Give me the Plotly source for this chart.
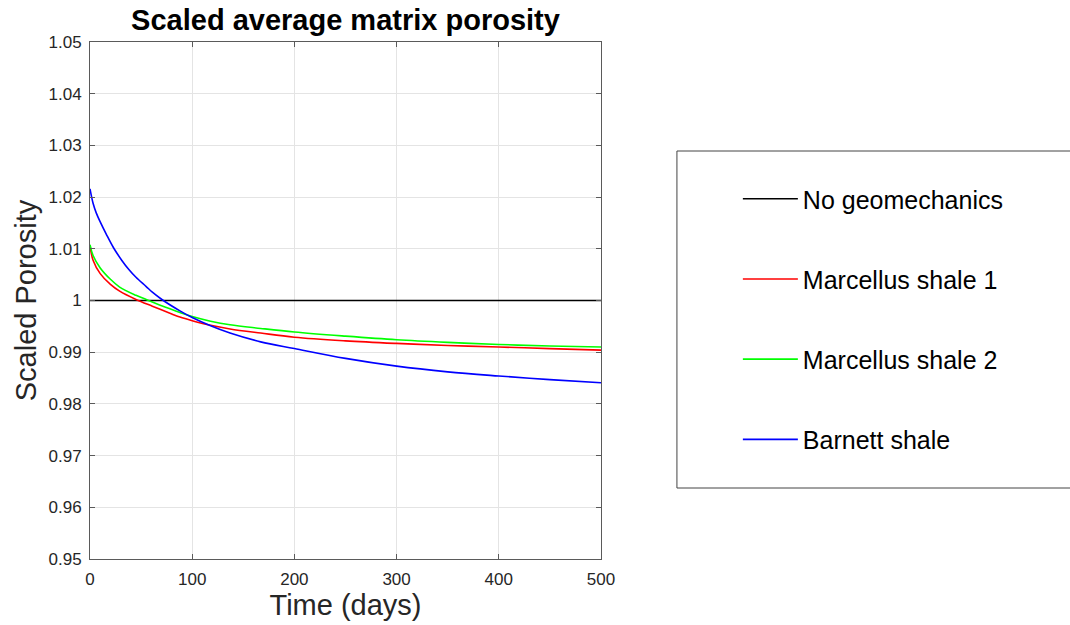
import plotly.graph_objects as go

# Data
ng_days = [0, 500]
ng_vals = [1.0, 1.0]

m1_days = [0, 3, 10, 20, 29, 45, 61, 80, 88, 100, 118, 137, 167, 200, 250, 300, 350, 400, 450, 500]
m1_vals = [1.0106, 1.0078, 1.0052, 1.0031, 1.0018, 1.0002, 0.9989, 0.9974, 0.9968, 0.9961, 0.9952,
           0.9945, 0.9937, 0.9929, 0.9922, 0.9917, 0.9913, 0.9910, 0.9907, 0.9904]

m2_days = [0, 3, 10, 20, 29, 45, 55, 74, 88, 100, 118, 137, 167, 200, 250, 300, 350, 400, 450, 500]
m2_vals = [1.0108, 1.0087, 1.0063, 1.0041, 1.0026, 1.0010, 1.0002, 0.9987, 0.9977, 0.9969, 0.9960,
           0.9953, 0.9946, 0.9939, 0.9931, 0.9924, 0.9919, 0.9915, 0.9912, 0.9910]

b_days = [0, 3, 6, 10, 16, 23, 31, 38, 45, 55, 61, 71, 88, 100, 118, 137, 167, 200, 250, 300, 350, 400, 450, 500]
b_vals = [1.0216, 1.0188, 1.0170, 1.0152, 1.0128, 1.0102, 1.0078, 1.0060, 1.0045, 1.0027, 1.0016, 1.0001,
          0.9980, 0.9967, 0.9951, 0.9937, 0.9920, 0.9907, 0.9888, 0.9873, 0.9862, 0.9854, 0.9847, 0.9841]

x_ticks = [0, 100, 200, 300, 400, 500]
x_labels = ["0", "100", "200", "300", "400", "500"]
y_ticks = [0.95, 0.96, 0.97, 0.98, 0.99, 1.0, 1.01, 1.02, 1.03, 1.04, 1.05]
y_labels = ["0.95", "0.96", "0.97", "0.98", "0.99", "1", "1.01", "1.02", "1.03", "1.04", "1.05"]

names = ["No geomechanics", "Marcellus shale 1", "Marcellus shale 2", "Barnett shale"]
colors = ["#000000", "#ff0000", "#00ff00", "#0000ff"]

FONT = "Liberation Sans, Arial, Helvetica, sans-serif"

fig = go.Figure()
series = [(ng_days, ng_vals), (m1_days, m1_vals), (m2_days, m2_vals), (b_days, b_vals)]
for i, ((xs, ys), nm, c) in enumerate(zip(series, names, colors)):
    fig.add_trace(go.Scatter(
        x=xs, y=ys, mode="lines", name=nm, legendgroup=f"g{i}",
        line=dict(color=c, width=1.6, shape="spline", smoothing=1.0),
    ))

W, H = 1070, 625
L, R, T, B = 89.5, 601, 42, 559
pw, ph = R - L, B - T

def px2paper_x(px):
    return (px - L) / pw

def px2paper_y(py):
    return (B - py) / ph

axis_common = dict(
    showline=True, linecolor="#5a5a5a", linewidth=1, mirror="ticks",
    ticks="inside", ticklen=5, tickcolor="#5a5a5a",
    showgrid=True, gridcolor="#e4e4e4", gridwidth=1, zeroline=False,
    tickfont=dict(family=FONT, size=17, color="#262626"),
)

fig.update_layout(
    width=W, height=H,
    margin=dict(l=L, r=W - R, t=T, b=H - B, pad=0),
    paper_bgcolor="white", plot_bgcolor="white",
    font=dict(family=FONT, color="#000000"),
    title=dict(text="<b>Scaled average matrix porosity</b>",
               font=dict(family=FONT, size=29, color="#000000"),
               x=0.5, xref="paper", xanchor="center",
               y=1 - 20 / H, yref="container", yanchor="middle"),
    xaxis=dict(range=[0, 500], tickvals=x_ticks, ticktext=x_labels, ticklabelstandoff=5,
               title=dict(text="Time (days)", font=dict(family=FONT, size=29, color="#262626"), standoff=4),
               **axis_common),
    yaxis=dict(range=[0.95, 1.05], tickvals=y_ticks, ticktext=y_labels, ticklabelstandoff=4,
               title=dict(text="Scaled Porosity", font=dict(family=FONT, size=29, color="#262626"), standoff=3),
               **axis_common),
    legend=dict(
        x=px2paper_x(738), xanchor="left",
        y=px2paper_y(176), yanchor="top",
        font=dict(family=FONT, size=25, color="#000000"),
        bgcolor="rgba(0,0,0,0)", borderwidth=0,
        tracegroupgap=44.7, itemwidth=55,
    ),
    shapes=[dict(type="rect", xref="paper", yref="paper",
                 x0=px2paper_x(677), x1=px2paper_x(1080),
                 y0=px2paper_y(488), y1=px2paper_y(151),
                 line=dict(color="#444444", width=1), fillcolor="rgba(0,0,0,0)")],
)

fig.write_html("out.html")
